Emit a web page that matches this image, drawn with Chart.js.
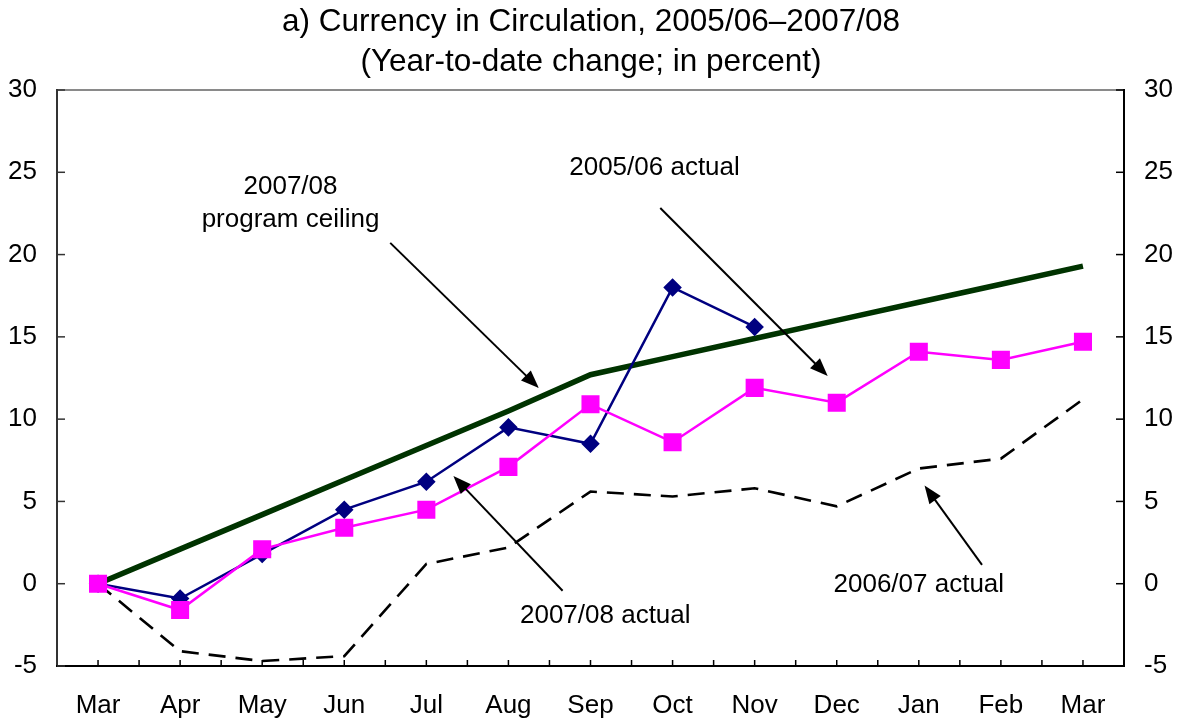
<!DOCTYPE html>
<html>
<head>
<meta charset="utf-8">
<script src="https://cdn.jsdelivr.net/npm/chart.js@4/dist/chart.umd.min.js"></script>
<style>
html,body{margin:0;padding:0;background:#fff;}
#wrap{width:1182px;height:721px;}
</style>
</head>
<body>
<div id="wrap"><canvas id="c" width="1182" height="721"></canvas></div>
<script>
// ---- data ----
const categories = ['Mar','Apr','May','Jun','Jul','Aug','Sep','Oct','Nov','Dec','Jan','Feb','Mar'];
const ceiling0708 = [0, 2.1, 4.2, 6.3, 8.4, 10.5, 12.7, 13.8, 14.9, 16.0, 17.1, 18.2, 19.3];
const actual0506  = [0, -0.9, 1.8, 4.5, 6.2, 9.5, 8.5, 18.0, 15.6, null, null, null, null];
const actual0607  = [0, -4.1, -4.7, -4.4, 1.2, 2.2, 5.6, 5.3, 5.8, 4.7, 7.0, 7.6, 11.2];
const actual0708  = [0, -1.6, 2.1, 3.4, 4.5, 7.1, 10.9, 8.6, 11.9, 11.0, 14.1, 13.6, 14.7];
const yTicks = [-5, 0, 5, 10, 15, 20, 25, 30];
const titleLines = ['a) Currency in Circulation, 2005/06\u20132007/08', '(Year-to-date change; in percent)'];

// annotation labels: [text, category index, value]
const labelTexts = ['2007/08', 'program ceiling', '2005/06 actual', '2007/08 actual', '2006/07 actual'];
const labelIdx   = [2.345, 2.345, 6.78, 6.18, 10.0];
const labelVal   = [24.1, 22.1, 25.26, -1.97, -0.08];
// arrows: from (idx,val) to (idx,val)
const arrowFromIdx = [3.56, 6.85, 5.66, 10.77];
const arrowFromVal = [20.71, 22.83, -0.43, 1.14];
const arrowToIdx   = [5.37, 8.89, 4.33, 10.07];
const arrowToVal   = [11.89, 12.62, 6.54, 5.97];

const FONT = "'Liberation Sans', Arial, sans-serif";

const decor = {
  id: 'decor',
  afterDatasetsDraw(chart) {
    const {ctx, chartArea: a, scales} = chart;
    const x = scales.x, y = scales.y;
    ctx.save();
    const seg = (x1, y1, x2, y2) => { ctx.beginPath(); ctx.moveTo(x1, y1); ctx.lineTo(x2, y2); ctx.stroke(); };
    // frame
    ctx.lineWidth = 2;
    ctx.strokeStyle = '#8a8a8a';
    seg(a.left, a.top, a.right, a.top);
    ctx.strokeStyle = '#333333';
    seg(a.left, a.top - 1, a.left, a.bottom + 1);
    ctx.strokeStyle = '#000000';
    seg(a.left - 1, a.bottom, a.right + 1, a.bottom);
    seg(a.right, a.top - 1, a.right, a.bottom + 1);
    // y ticks (inside)
    ctx.lineWidth = 1.5;
    yTicks.forEach(v => {
      const py = y.getPixelForValue(v);
      ctx.strokeStyle = '#333333';
      seg(a.left, py, a.left + 8, py);
      ctx.strokeStyle = '#000000';
      seg(a.right - 8, py, a.right, py);
    });
    // x ticks (inside, at centers and boundaries)
    const step = x.getPixelForValue(1) - x.getPixelForValue(0);
    ctx.strokeStyle = '#000000';
    for (let i = 0; i < categories.length; i++) {
      const px = x.getPixelForValue(i);
      seg(px, a.bottom, px, a.bottom - 6);
      if (i > 0) seg(px - step / 2, a.bottom, px - step / 2, a.bottom - 6);
    }
    // arrows
    ctx.strokeStyle = '#000000';
    ctx.fillStyle = '#000000';
    ctx.lineWidth = 2;
    for (let i = 0; i < arrowFromIdx.length; i++) {
      const x1 = x.getPixelForValue(arrowFromIdx[i]), y1 = y.getPixelForValue(arrowFromVal[i]);
      const x2 = x.getPixelForValue(arrowToIdx[i]), y2 = y.getPixelForValue(arrowToVal[i]);
      const ang = Math.atan2(y2 - y1, x2 - x1);
      const hl = 18, hw = 7;
      const bx = x2 - hl * Math.cos(ang), by = y2 - hl * Math.sin(ang);
      seg(x1, y1, bx + 2 * Math.cos(ang), by + 2 * Math.sin(ang));
      ctx.beginPath();
      ctx.moveTo(x2, y2);
      ctx.lineTo(bx + hw * Math.sin(ang), by - hw * Math.cos(ang));
      ctx.lineTo(bx - hw * Math.sin(ang), by + hw * Math.cos(ang));
      ctx.closePath();
      ctx.fill();
    }
    // labels
    ctx.font = '26px ' + FONT;
    ctx.textAlign = 'center';
    ctx.textBaseline = 'middle';
    ctx.fillStyle = '#000000';
    for (let i = 0; i < labelTexts.length; i++) {
      ctx.fillText(labelTexts[i], x.getPixelForValue(labelIdx[i]), y.getPixelForValue(labelVal[i]));
    }
    ctx.restore();
  }
};

new Chart(document.getElementById('c'), {
  type: 'line',
  data: {
    labels: categories,
    datasets: [
      { label: '2007/08 actual', data: actual0708, borderColor: '#ff00ff', backgroundColor: '#ff00ff',
        borderWidth: 2.5, pointStyle: 'rect', pointRadius: 11, pointHoverRadius: 11, order: 0, yAxisID: 'y' },
      { label: '2005/06 actual', data: actual0506, borderColor: '#000080', backgroundColor: '#000080',
        borderWidth: 2.5, pointStyle: 'rectRot', pointRadius: 7.5, pointHoverRadius: 7.5, order: 1, yAxisID: 'y' },
      { label: '2007/08 program ceiling', data: ceiling0708, borderColor: '#003300', backgroundColor: '#003300',
        borderWidth: 5.5, pointRadius: 0, order: 2, yAxisID: 'y' },
      { label: '2006/07 actual', data: actual0607, borderColor: '#000000', backgroundColor: '#000000',
        borderWidth: 2.6, borderDash: [17, 10], pointRadius: 0, order: 3, yAxisID: 'y' }
    ]
  },
  options: {
    responsive: false,
    devicePixelRatio: 1,
    animation: false,
    layout: { padding: 0 },
    plugins: {
      legend: { display: false },
      tooltip: { enabled: false },
      title: {
        display: true,
        text: titleLines,
        color: '#000000',
        font: { family: FONT, size: 31.5, weight: 'normal', lineHeight: 40 / 31.5 },
        padding: { top: 2, bottom: 8 }
      }
    },
    scales: {
      x: {
        type: 'category',
        offset: true,
        grid: { display: false, drawTicks: false },
        border: { display: false },
        ticks: { color: '#000000', font: { family: FONT, size: 26 }, padding: 24, maxRotation: 0, autoSkip: false },
        afterFit(s) { s.height = 55; }
      },
      y: {
        position: 'left',
        min: -5, max: 30,
        afterBuildTicks(s) { s.ticks = yTicks.map(v => ({ value: v })); },
        grid: { display: false, drawTicks: false },
        border: { display: false },
        ticks: { color: '#000000', font: { family: FONT, size: 26 }, padding: 20 },
        afterFit(s) { s.width = 57; }
      },
      y2: {
        position: 'right',
        min: -5, max: 30,
        afterBuildTicks(s) { s.ticks = yTicks.map(v => ({ value: v })); },
        grid: { display: false, drawTicks: false },
        border: { display: false },
        ticks: { color: '#000000', font: { family: FONT, size: 26 }, padding: 20 },
        afterFit(s) { s.width = 58; }
      }
    }
  },
  plugins: [decor]
});
</script>
</body>
</html>
